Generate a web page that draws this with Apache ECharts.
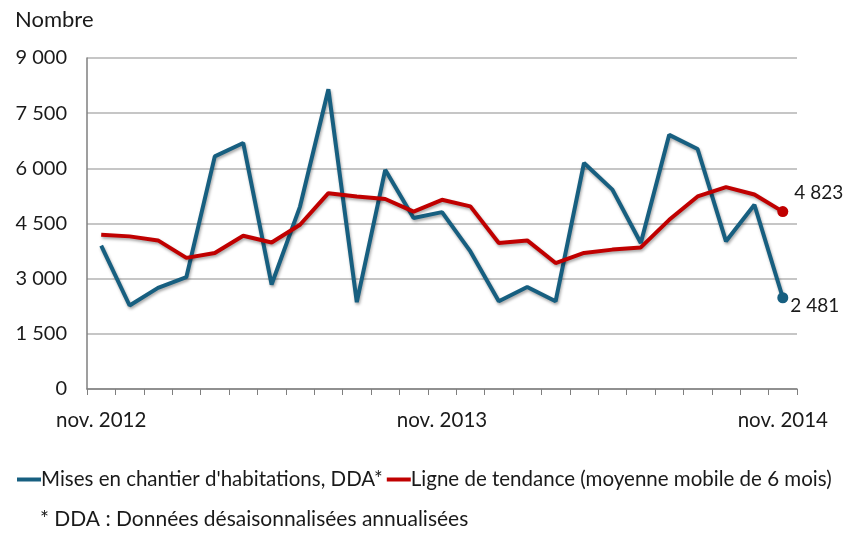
<!DOCTYPE html>
<html><head><meta charset="utf-8">
<script src="https://cdn.jsdelivr.net/npm/echarts@6/dist/echarts.min.js"></script>
<style>html,body{margin:0;padding:0;background:#fff}#c{width:846px;height:537px}</style>
</head><body><div id="c"></div>
<script>
const months = ["nov. 2012","déc. 2012","janv. 2013","févr. 2013","mars 2013","avr. 2013","mai 2013","juin 2013","juil. 2013","août 2013","sept. 2013","oct. 2013","nov. 2013","déc. 2013","janv. 2014","févr. 2014","mars 2014","avr. 2014","mai 2014","juin 2014","juil. 2014","août 2014","sept. 2014","oct. 2014","nov. 2014"];
const misesEnChantier = [3900,2270,2750,3045,6325,6690,2840,4960,8150,2360,5960,4650,4810,3740,2385,2775,2385,6145,5420,3970,6910,6525,4015,5010,2481];
const tendance = [4195,4150,4040,3565,3700,4165,3985,4465,5325,5235,5165,4825,5145,4965,3970,4040,3425,3700,3790,3850,4600,5235,5490,5290,4823];
const yTicks = [0,1500,3000,4500,6000,7500,9000];
const xLabelMonths = ["nov. 2012","nov. 2013","nov. 2014"];

const fmt = v => String(v).replace(/\B(?=(\d{3})+(?!\d))/g, ' ');
const FONT = 'Lato';
const TXT = '#1a1a1a';

function withEnd(arr, color, labelPos) {
  return arr.map((v, i) => i === arr.length - 1 ? {
    value: v, symbol: 'circle', symbolSize: 11,
    itemStyle: { color: color },
    label: { show: true, formatter: p => fmt(p.value), color: TXT, fontFamily: FONT, fontSize: 19, ...labelPos }
  } : v);
}

const chart = echarts.init(document.getElementById('c'), null, { renderer: 'canvas' });
const shadow = { shadowColor: 'rgba(0,0,0,0.35)', shadowBlur: 3, shadowOffsetX: 1, shadowOffsetY: 2 };
chart.setOption({
  animation: false,
  backgroundColor: '#fff',
  title: { text: 'Nombre', left: 10, top: 4, textStyle: { fontFamily: FONT, fontSize: 22, fontWeight: 'normal', color: TXT } },
  grid: { left: 87, right: 49, top: 58, bottom: 148 },
  legend: {
    left: 12, top: 464, itemGap: 4, itemWidth: 24, itemHeight: 4, icon: 'rect',
    textStyle: { fontFamily: FONT, fontSize: 20.5, color: TXT, padding: [0,0,0,-5] },
    data: ["Mises en chantier d'habitations, DDA*", 'Ligne de tendance (moyenne mobile de 6 mois)']
  },
  graphic: [{ type: 'text', left: 40, top: 509, style: { text: '* DDA : Données désaisonnalisées annualisées', font: '21px ' + FONT, fill: TXT } }],
  xAxis: {
    type: 'category', data: months, boundaryGap: true,
    axisLine: { lineStyle: { color: '#7f7f7f', width: 1.5 } },
    axisTick: { show: true, interval: 0, length: 6, lineStyle: { color: '#7f7f7f' } },
    axisLabel: {
      interval: (i, v) => xLabelMonths.includes(v), margin: 21,
      fontFamily: FONT, fontSize: 20.5, color: TXT
    }
  },
  yAxis: {
    type: 'value', min: 0, max: 9000, interval: 1500,
    axisLine: { show: true, lineStyle: { color: '#7f7f7f', width: 1.5 } },
    axisTick: { show: false },
    splitLine: { lineStyle: { color: '#b3b3b3', width: 1.5 } },
    axisLabel: { margin: 20, fontFamily: FONT, fontSize: 20, color: TXT, formatter: v => yTicks.includes(v) ? fmt(v) : '' }
  },
  series: [
    {
      name: "Mises en chantier d'habitations, DDA*", type: 'line', symbol: 'none', showSymbol: true,
      color: '#175f80',
      lineStyle: { width: 4, color: '#175f80', ...shadow },
      data: withEnd(misesEnChantier, '#175f80', { position: 'right', offset: [-3, 8] })
    },
    {
      name: 'Ligne de tendance (moyenne mobile de 6 mois)', type: 'line', symbol: 'none', showSymbol: true,
      color: '#c00000',
      lineStyle: { width: 4, color: '#c00000', ...shadow },
      data: withEnd(tendance, '#c00000', { position: 'right', offset: [1, -19] })
    }
  ]
});
</script></body></html>
